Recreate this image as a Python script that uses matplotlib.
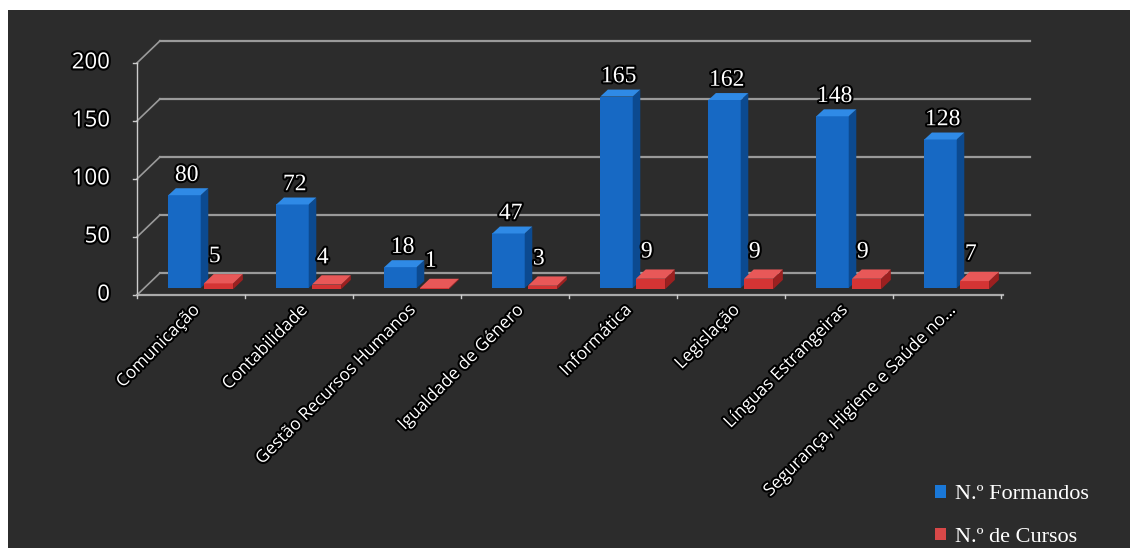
import matplotlib
matplotlib.use("Agg")
import matplotlib.pyplot as plt
import matplotlib.patheffects as pe
from matplotlib.patches import Polygon, Rectangle, Patch

# data
categories = ["Comunicação", "Contabilidade", "Gestão Recursos Humanos",
              "Igualdade de Género", "Informática", "Legislação",
              "Línguas Estrangeiras", "Segurança, Higiene e Saúde no..."]
formandos = [80, 72, 18, 47, 165, 162, 148, 128]
cursos = [5, 4, 1, 3, 9, 9, 9, 7]
yticks = [0, 50, 100, 150, 200]

W, H = 1138, 554
fig = plt.figure(figsize=(W / 100, H / 100), dpi=100, facecolor="white")
# dark panel behind the chart
fig.patches.append(Rectangle((8 / W, 6 / H), 1122 / W, 538 / H, transform=fig.transFigure,
                             facecolor="#2c2c2c", edgecolor="none", zorder=-5))

ax = fig.add_axes([137 / W, 259 / H, 903 / W, 253 / H])
ax.set_zorder(2)
ax.set_xlim(0, 903 / 108)
ax.set_ylim(0, 218)
ax.axis("off")

grid_c = "#9a9a9a"
dx, dy = 0.213, 19  # back wall offset (pseudo 3D)
n = len(categories)
halo = [pe.withStroke(linewidth=3, foreground="black")]

# back wall gridlines + diagonals to front axis
for v in yticks:
    ax.plot([dx, 8.27], [v + dy, v + dy], color=grid_c, lw=1.6, zorder=1, clip_on=False)
    ax.plot([0, dx], [v, v + dy], color=grid_c, lw=1.2, zorder=1, clip_on=False)
    ax.plot([-0.04, 0], [v, v], color="#cccccc", lw=1, clip_on=False)
    ax.text(-0.25, v, str(v), color="white", ha="right", va="center", fontsize=16,
            family="Open Sans", path_effects=halo)
ax.plot([0, 0], [0, 200], color="#cccccc", lw=1, clip_on=False)
ax.plot([0, 8.02], [0, 0], color="#aaaaaa", lw=1.6, clip_on=False)
for i in range(n + 1):
    ax.plot([i, i], [0, -3], color="#cccccc", lw=1, clip_on=False)


def bar3d(x0, w, base, h, front, side, top, d=0.07, e=6):
    ax.add_patch(Rectangle((x0, base), w, h, facecolor=front, edgecolor="none", zorder=3))
    ax.add_patch(Polygon([(x0 + w, base), (x0 + w + d, base + e), (x0 + w + d, base + h + e),
                          (x0 + w, base + h)], facecolor=side, edgecolor="none", zorder=3))
    ax.add_patch(Polygon([(x0, base + h), (x0 + w, base + h), (x0 + w + d, base + h + e),
                          (x0 + d, base + h + e)], facecolor=top, edgecolor="none", zorder=3))


base = 6
for i in range(n):
    bar3d(i + 0.29, 0.30, base, formandos[i], "#1769c4", "#0c4a90", "#2f8ae6")
    bar3d(i + 0.62, 0.27, base - 1, cursos[i], "#d43434", "#9c2020", "#e85858", d=0.09, e=8)
    ax.text(i + 0.46, base + formandos[i] + 8, str(formandos[i]), color="white",
            ha="center", va="bottom", fontsize=17, family="Liberation Serif", path_effects=halo)
    ax.text(i + 0.72, base + cursos[i] + 13, str(cursos[i]), color="white",
            ha="center", va="bottom", fontsize=17, family="Liberation Serif", path_effects=halo)
    ax.text(i + 0.51, -6, categories[i], color="white", ha="right", va="top", rotation=45,
            rotation_mode="anchor", fontsize=12.5, family="Open Sans", path_effects=halo)

handles = [Patch(facecolor="#1a78d8"), Patch(facecolor="#d84848")]
fig.legend(handles, ["N.º Formandos", "N.º de Cursos"], loc="center left",
           bbox_to_anchor=(915 / W, 1 - 516 / H), frameon=False, labelcolor="white",
           prop={"family": "Liberation Serif", "size": 16}, handlelength=0.5,
           handleheight=0.5, handletextpad=0.4, labelspacing=1.05)

fig.savefig("out.png", dpi=100, facecolor="white")
